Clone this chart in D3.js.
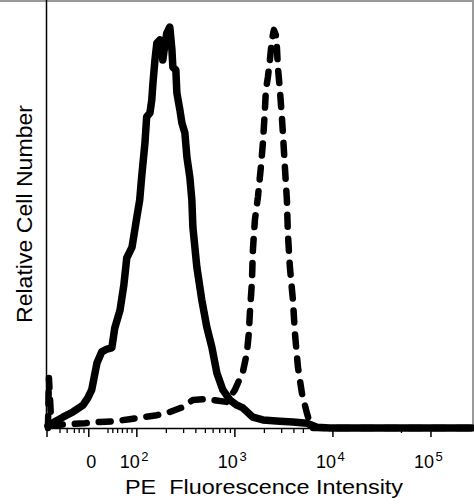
<!DOCTYPE html>
<html>
<head>
<meta charset="utf-8">
<script src="https://cdn.jsdelivr.net/npm/d3@7"></script>
<style>
    html, body { margin: 0; padding: 0; background: #fff; }
    svg { display: block; font-family: "Liberation Sans", Arial, sans-serif; }
</style>
</head>
<body>
<svg id="chart" width="474" height="504"></svg>
<script>
// PE histogram, biexponential x axis (linear below 100, log above)
const X_MIN = -87;
const X_MAX = 262144;
const LIN_DECADES = 0.49;   // width of the 0..100 linear stretch, in decades
const Y_MAX = 106.5;

// solid line (left peak)
const controlIntensity = [-85, -81, -69, -54, -33, -12, -2, 6, 17, 27, 38, 48, 54, 65, 73, 79, 90, 100, 107, 112,
    121, 126, 136, 142, 146, 153, 160, 172, 180, 184, 193, 202, 217, 228, 233, 250, 256, 275, 288, 309,
    324, 347, 364, 373, 409, 460, 517, 582, 655, 754, 889, 1048, 1207, 1527, 1931, 2878, 3908, 5429, 6871, 9306, 262144];
const controlCount = [0.5, 0.7, 1.7, 2.7, 4.0, 5.7, 7.5, 9.5, 16.2, 19.0, 19.7, 20.0, 24.9, 29.4, 35.7, 42.4, 45.1, 52.6, 56.9, 62.6,
    71.1, 77.6, 78.6, 81.8, 86.0, 91.8, 96.0, 96.8, 96.3, 91.8, 95.5, 98.5, 100, 94.3, 90.0, 89.3, 83.6, 79.3, 76.1, 73.6,
    67.6, 62.6, 56.9, 50.1, 40.2, 31.9, 25.2, 20.2, 13.7, 9.5, 7.0, 5.7, 5.0, 2.7, 2.0, 1.7, 1.5, 1.2, 0.2, 0, 0];

// dashed line (right peak)
const stainedIntensity = [-85, -83, -78, -71, -40, -8, 23, 54, 85, 115, 160, 217, 294, 373, 471, 597, 828, 1000, 1207, 1325,
    1389, 1422, 1491, 1527, 1600, 1718, 1842, 1931, 2024, 2071, 2171, 2276, 2385, 2500, 2620, 2683, 2746, 2878, 3016, 3087,
    3236, 3391, 3471, 3638, 3908, 4095, 4396, 4827, 5429, 5820, 6248, 262144];
const stainedCount = [0, 12.5, 1.0, 0.7, 1.0, 1.2, 1.5, 1.7, 2.2, 2.7, 3.2, 4.0, 5.2, 7.0, 7.2, 7.0, 6.5, 9.5, 14.0, 18.7,
    23.7, 28.7, 36.2, 44.4, 51.9, 57.6, 65.1, 71.1, 79.3, 84.3, 87.5, 91.8, 96.8, 99.3, 98.0, 95.0, 90.0, 84.3, 77.6, 73.6,
    65.1, 56.9, 48.6, 40.2, 31.9, 23.7, 15.2, 8.7, 3.7, 1.2, 0, 0];

const majorTicks = [X_MIN, 0, 1e2, 1e3, 1e4, 1e5];
const majorExponents = [null, null, 2, 3, 4, 5];
const minorTicks = [-60, -45, -30, -20, -10, 40, 50, 60, 70, 80, 90,
    200, 300, 400, 500, 600, 700, 800, 900, 2000, 3000, 4000, 5000, 50000];

const LEFT = 47;
const RIGHT = 472;
const TOP = 1;
const BOTTOM = 428;

const biex = (v) => (v >= 100 ? Math.log10(v) : 2 - (100 - v) / 100 * LIN_DECADES);

const xLin = d3.scaleLinear().domain([biex(X_MIN), biex(X_MAX)]).range([LEFT, RIGHT]);
const x = (v) => xLin(biex(v));
const y = d3.scaleLinear().domain([0, Y_MAX]).range([BOTTOM, TOP]);

const svg = d3.select('#chart');

// frame: grey top / right, black axes left / bottom
svg.append('line')
    .attr('x1', 0).attr('x2', 474).attr('y1', 1).attr('y2', 1)
    .attr('stroke', '#9a9a9a').attr('stroke-width', 2);
svg.append('line')
    .attr('x1', 473).attr('x2', 473).attr('y1', 0).attr('y2', BOTTOM)
    .attr('stroke', '#9a9a9a').attr('stroke-width', 2);

const line = d3.line()
    .x((d) => x(d[0]))
    .y((d) => y(d[1]));

const series = (xs, ys) => xs.map((v, i) => [v, ys[i]]);

svg.append('path')
    .datum(series(stainedIntensity, stainedCount))
    .attr('d', line)
    .attr('fill', 'none')
    .attr('stroke', '#000')
    .attr('stroke-width', 6.5)
    .attr('stroke-linecap', 'round')
    .attr('stroke-linejoin', 'round')
    .attr('stroke-dasharray', '12,12');

svg.append('path')
    .datum(series(controlIntensity, controlCount))
    .attr('d', line)
    .attr('fill', 'none')
    .attr('stroke', '#000')
    .attr('stroke-width', 7.5)
    .attr('stroke-linecap', 'round')
    .attr('stroke-linejoin', 'round');

svg.append('line')
    .attr('x1', 46.5).attr('x2', 46.5).attr('y1', 0).attr('y2', BOTTOM + 0.5)
    .attr('stroke', '#000').attr('stroke-width', 1.5);
svg.append('line')
    .attr('x1', 46).attr('x2', RIGHT).attr('y1', BOTTOM + 0.5).attr('y2', BOTTOM + 0.5)
    .attr('stroke', '#000').attr('stroke-width', 1.5);

const axis = svg.append('g').attr('class', 'axis');

axis.selectAll('line.minor')
    .data(minorTicks)
    .join('line')
    .attr('class', 'minor')
    .attr('x1', (d) => x(d)).attr('x2', (d) => x(d))
    .attr('y1', BOTTOM).attr('y2', BOTTOM + 5)
    .attr('stroke', '#000').attr('stroke-width', 1.3);

axis.selectAll('line.major')
    .data(majorTicks)
    .join('line')
    .attr('class', 'major')
    .attr('x1', (d) => x(d)).attr('x2', (d) => x(d))
    .attr('y1', BOTTOM).attr('y2', BOTTOM + 9)
    .attr('stroke', '#000').attr('stroke-width', 1.5);

majorTicks.forEach((v, i) => {
    const exp = majorExponents[i];
    if (v === 0) {
        axis.append('text')
            .attr('x', x(v) + 2.5).attr('y', 468)
            .attr('text-anchor', 'middle')
            .attr('font-size', 18)
            .text('0');
    } else if (exp !== null) {
        axis.append('text')
            .attr('x', x(v) + 3).attr('y', 468)
            .attr('text-anchor', 'end')
            .attr('font-size', 18)
            .text('10');
        axis.append('text')
            .attr('x', x(v) + 4.5).attr('y', 461)
            .attr('font-size', 13)
            .text(exp);
    }
});

svg.append('text')
    .attr('x', 264).attr('y', 494)
    .attr('text-anchor', 'middle')
    .attr('font-size', 20)
    .attr('textLength', 278)
    .attr('lengthAdjust', 'spacingAndGlyphs')
    .style('white-space', 'pre')
    .text('PE  Fluorescence Intensity');

svg.append('text')
    .attr('transform', 'translate(32,214) rotate(-90)')
    .attr('text-anchor', 'middle')
    .attr('font-size', 22)
    .attr('textLength', 218)
    .attr('lengthAdjust', 'spacingAndGlyphs')
    .text('Relative Cell Number');
</script>
</body>
</html>
